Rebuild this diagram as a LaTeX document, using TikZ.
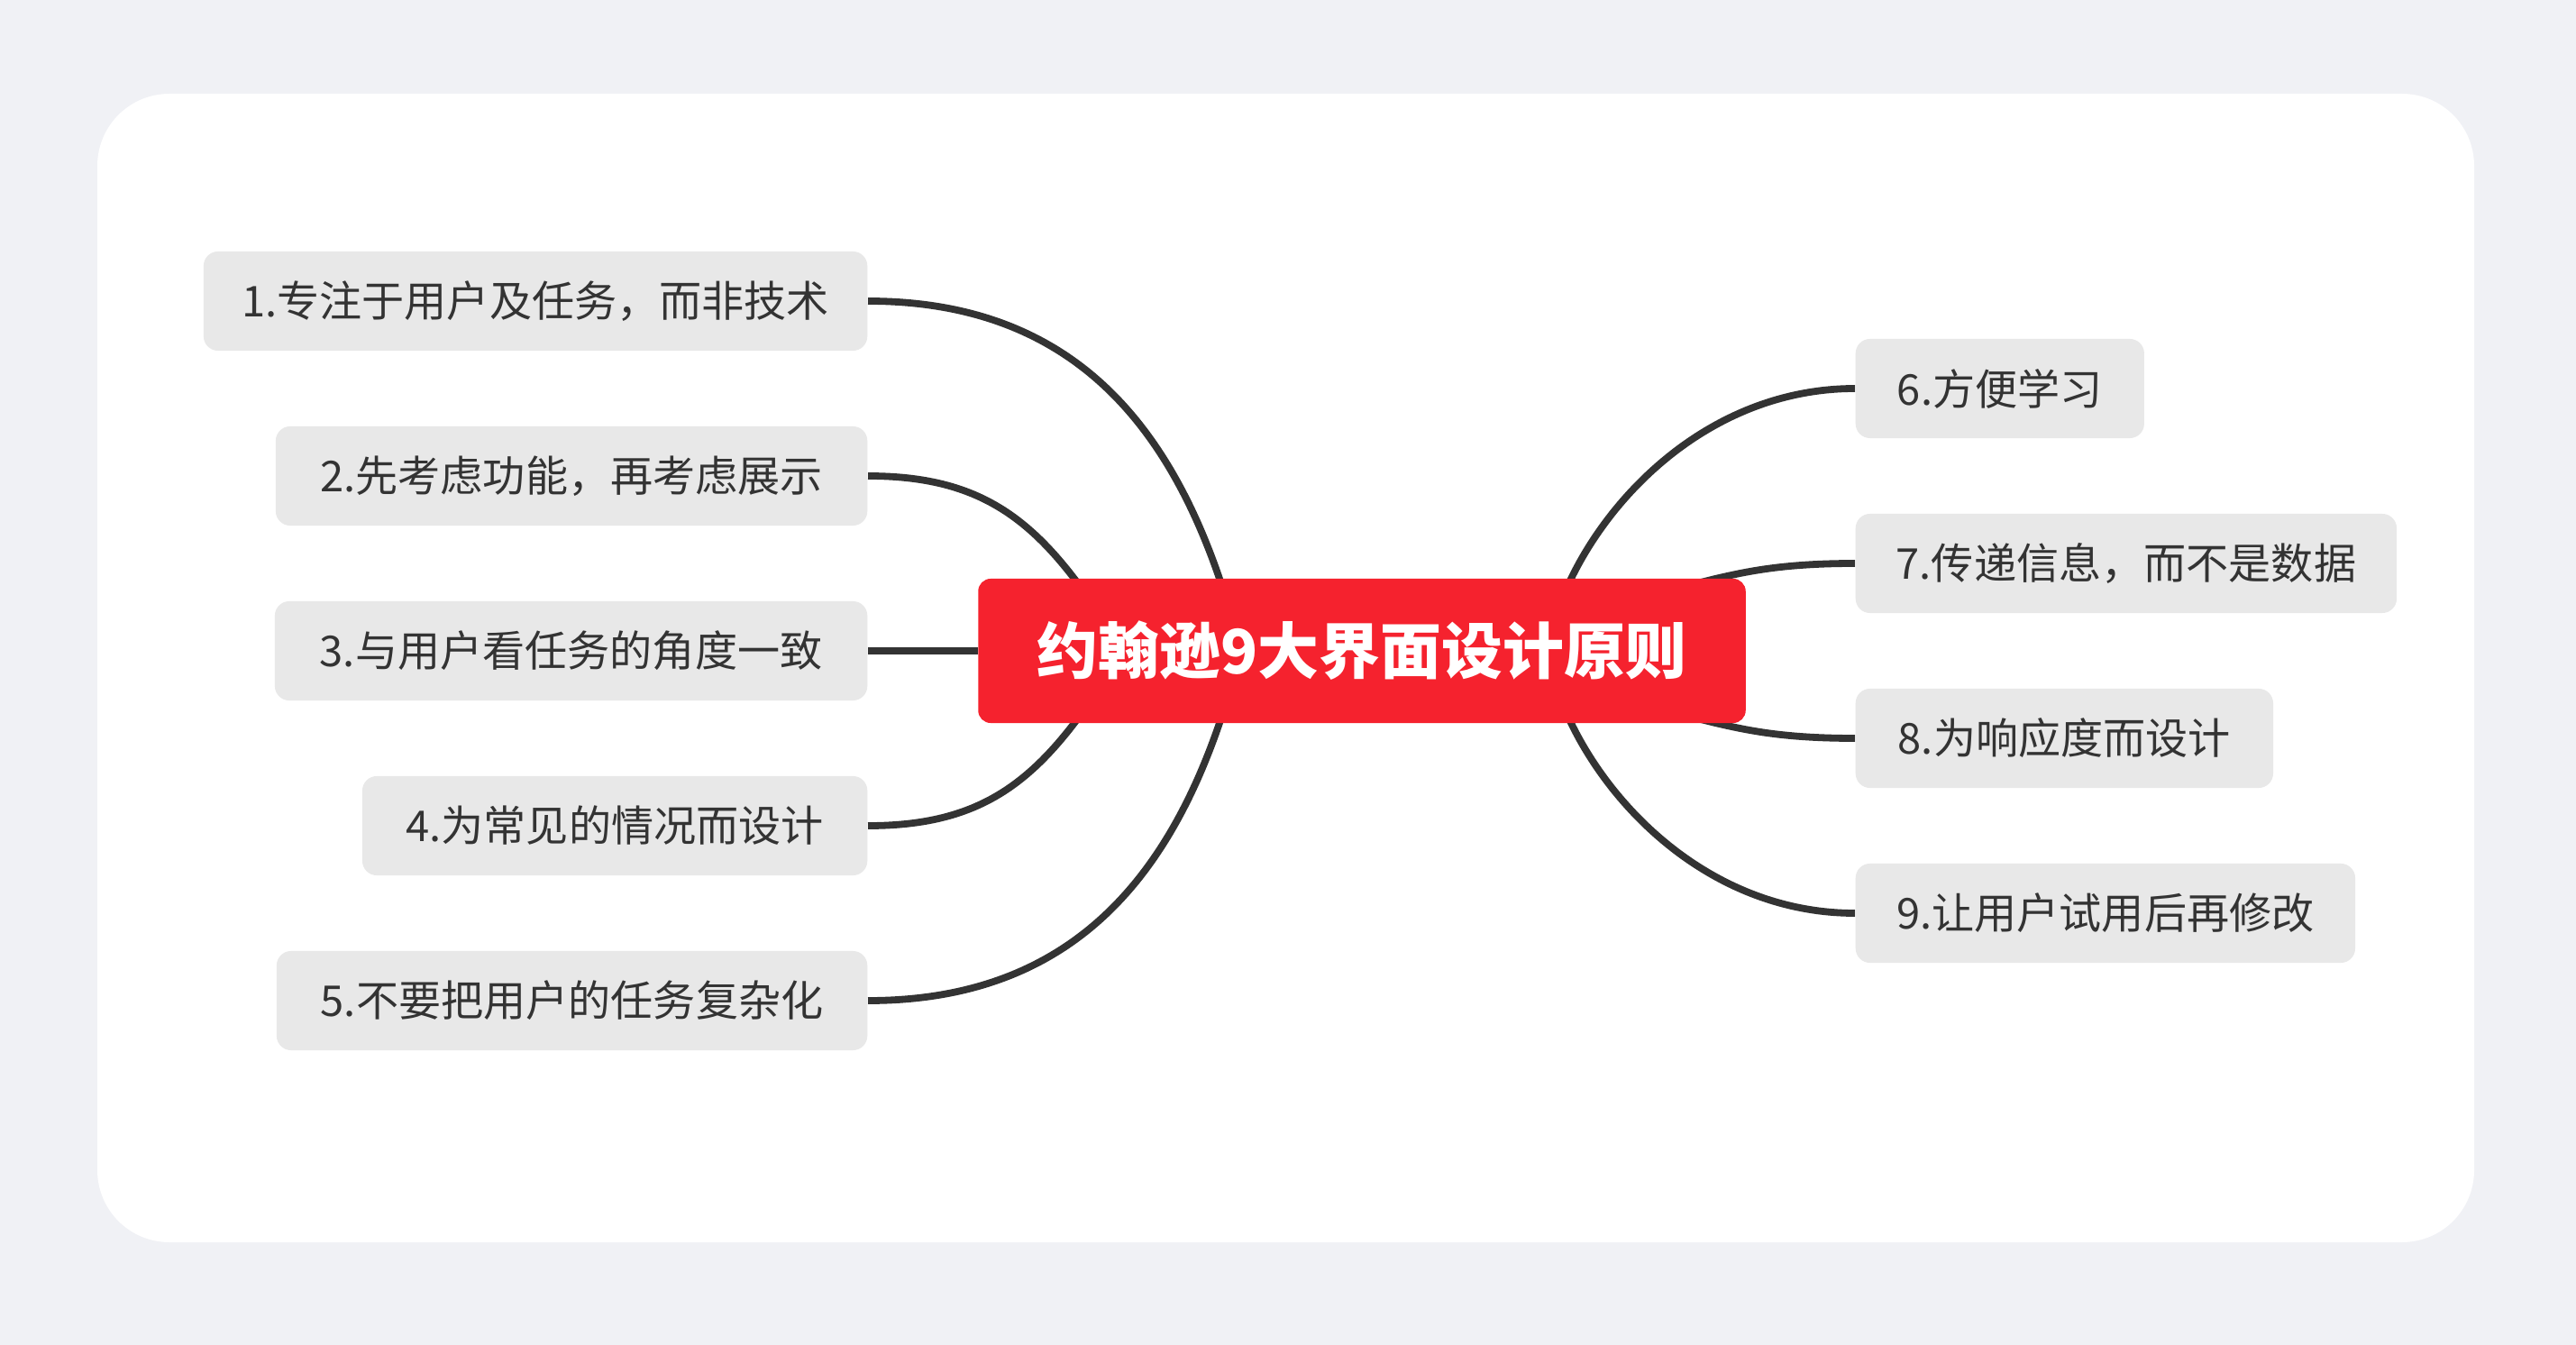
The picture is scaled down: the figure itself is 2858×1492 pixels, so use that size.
\documentclass[tikz,border=0pt]{standalone}
\usepackage{fontspec}
\newfontfamily\cjk{Noto Sans CJK SC}
\definecolor{pagebg}{RGB}{240,241,245}
\definecolor{nodegray}{RGB}{232,232,232}
\definecolor{textdark}{RGB}{51,51,51}
\definecolor{rootred}{RGB}{245,34,46}
\definecolor{linedark}{RGB}{51,51,51}
\pgfdeclarelayer{back}
\pgfdeclarelayer{bg}
\pgfsetlayers{back,bg,main}
\tikzset{
  child/.style={fill=nodegray, rounded corners=0.16cm, minimum height=1.1cm, inner sep=0pt,
    text=textdark, font=\cjk\fontsize{13.4}{16}\selectfont},
  rootbox/.style={fill=rootred, rounded corners=0.14cm, minimum width=8.51cm, minimum height=1.6cm,
    inner sep=0pt, text=white, font=\cjk\bfseries\fontsize{19.3}{23}\selectfont},
  conn/.style={draw=linedark, line width=0.078cm}
}
\begin{document}
\begin{tikzpicture}[x=0.01cm, y=-0.01cm]
\useasboundingbox (0,0) rectangle (2858,1492);
\begin{pgfonlayer}{back}
  \fill[pagebg] (0,0) rectangle (2858,1492);
  \fill[white, rounded corners=0.8cm] (108,104) rectangle (2745,1378);
\end{pgfonlayer}

\node[rootbox] (root) at (1511,722) {约翰逊9大界面设计原则};

\node[child, anchor=east, minimum width=7.36cm] (n1) at (963,334) {1.专注于用户及任务，而非技术};
\node[child, anchor=east, minimum width=6.56cm] (n2) at (963,528) {2.先考虑功能，再考虑展示};
\node[child, anchor=east, minimum width=6.57cm] (n3) at (963,722) {3.与用户看任务的角度一致};
\node[child, anchor=east, minimum width=5.60cm] (n4) at (963,916) {4.为常见的情况而设计};
\node[child, anchor=east, minimum width=6.55cm] (n5) at (963,1110) {5.不要把用户的任务复杂化};

\node[child, anchor=west, minimum width=3.20cm] (n6) at (2058,431) {6.方便学习};
\node[child, anchor=west, minimum width=6.00cm] (n7) at (2058,625) {7.传递信息，而不是数据};
\node[child, anchor=west, minimum width=4.63cm] (n8) at (2058,819) {8.为响应度而设计};
\node[child, anchor=west, minimum width=5.54cm] (n9) at (2058,1013) {9.让用户试用后再修改};

\coordinate (e1) at (1353,642);
\coordinate (e2) at (1192,642);
\coordinate (e4) at (1192,802);
\coordinate (e5) at (1353,802);
\coordinate (e6) at (1743,642);
\coordinate (e7) at (1903,642);
\coordinate (e8) at (1903,802);
\coordinate (e9) at (1743,802);

\begin{pgfonlayer}{bg}
  \draw[conn] (n1.east) .. controls +(220,0) and +(-61,-178) .. (e1) -- ++(18,52);
  \draw[conn] (n2.east) .. controls +(110,0) and +(-59,-77) .. (e2) -- ++(21,28);
  \draw[conn] (n3.east) -- (root.west);
  \draw[conn] (n4.east) .. controls +(110,0) and +(-59,77) .. (e4) -- ++(21,-28);
  \draw[conn] (n5.east) .. controls +(220,0) and +(-61,178) .. (e5) -- ++(18,-52);
  \draw[conn] (n6.west) .. controls +(-150,0) and +(51,-105) .. (e6) -- ++(-17,35);
  \draw[conn] (n7.west) .. controls +(-80,0) and +(35,-8) .. (e7) -- ++(-40,10);
  \draw[conn] (n8.west) .. controls +(-80,0) and +(35,8) .. (e8) -- ++(-40,-10);
  \draw[conn] (n9.west) .. controls +(-150,0) and +(51,105) .. (e9) -- ++(-17,-35);
\end{pgfonlayer}
\end{tikzpicture}
\end{document}
